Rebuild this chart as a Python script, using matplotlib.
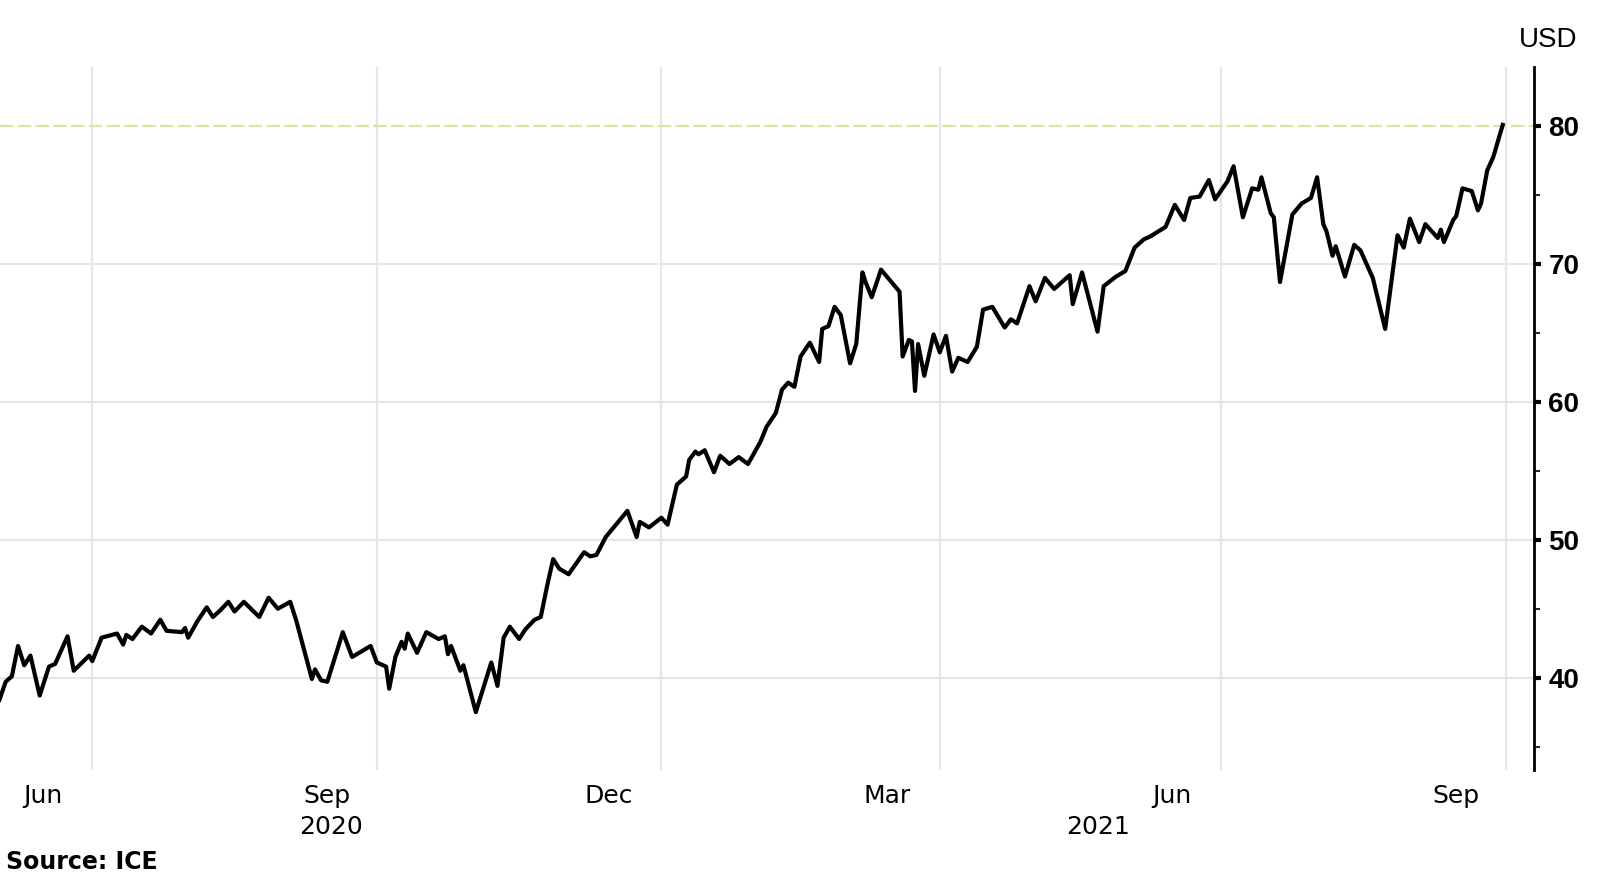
import matplotlib.pyplot as plt
import matplotlib.dates as mdates
import pandas as pd

# Brent crude, USD per barrel
dates = [
    "2020-06-01", "2020-06-03", "2020-06-05", "2020-06-07", "2020-06-09", "2020-06-11",
    "2020-06-14", "2020-06-17", "2020-06-19", "2020-06-23", "2020-06-25", "2020-06-30",
    "2020-07-01", "2020-07-04", "2020-07-09", "2020-07-11", "2020-07-12", "2020-07-14",
    "2020-07-17", "2020-07-20", "2020-07-23", "2020-07-25", "2020-07-30", "2020-07-31",
    "2020-08-01", "2020-08-04", "2020-08-07", "2020-08-09", "2020-08-11", "2020-08-14",
    "2020-08-16", "2020-08-19", "2020-08-24", "2020-08-27", "2020-08-30", "2020-09-03",
    "2020-09-05", "2020-09-10", "2020-09-11", "2020-09-13", "2020-09-15", "2020-09-20",
    "2020-09-23", "2020-09-29", "2020-10-01", "2020-10-04", "2020-10-05", "2020-10-07",
    "2020-10-09", "2020-10-10", "2020-10-11", "2020-10-14", "2020-10-17", "2020-10-21",
    "2020-10-23", "2020-10-24", "2020-10-25", "2020-10-28", "2020-10-29", "2020-11-02",
    "2020-11-07", "2020-11-09", "2020-11-11", "2020-11-13", "2020-11-16", "2020-11-18",
    "2020-11-21", "2020-11-23", "2020-11-25", "2020-11-27", "2020-11-29", "2020-12-02",
    "2020-12-07", "2020-12-09", "2020-12-11", "2020-12-14", "2020-12-21", "2020-12-24",
    "2020-12-25", "2020-12-28", "2021-01-01", "2021-01-03", "2021-01-06", "2021-01-09",
    "2021-01-10", "2021-01-12", "2021-01-13", "2021-01-15", "2021-01-18", "2021-01-20",
    "2021-01-23", "2021-01-26", "2021-01-29", "2021-02-02", "2021-02-04", "2021-02-07",
    "2021-02-09", "2021-02-11", "2021-02-13", "2021-02-15", "2021-02-18", "2021-02-21",
    "2021-02-22", "2021-02-24", "2021-02-26", "2021-02-28", "2021-03-03", "2021-03-05",
    "2021-03-07", "2021-03-08", "2021-03-10", "2021-03-13", "2021-03-19", "2021-03-20",
    "2021-03-22", "2021-03-23", "2021-03-24", "2021-03-25", "2021-03-27", "2021-03-30",
    "2021-04-01", "2021-04-03", "2021-04-05", "2021-04-07", "2021-04-10", "2021-04-13",
    "2021-04-15", "2021-04-18", "2021-04-22", "2021-04-24", "2021-04-26", "2021-04-30",
    "2021-05-02", "2021-05-05", "2021-05-08", "2021-05-13", "2021-05-14", "2021-05-17",
    "2021-05-22", "2021-05-24", "2021-05-28", "2021-05-31", "2021-06-03", "2021-06-06",
    "2021-06-08", "2021-06-13", "2021-06-16", "2021-06-19", "2021-06-21", "2021-06-24",
    "2021-06-27", "2021-06-29", "2021-07-03", "2021-07-05", "2021-07-08", "2021-07-11",
    "2021-07-13", "2021-07-14", "2021-07-17", "2021-07-18", "2021-07-20", "2021-07-24",
    "2021-07-27", "2021-07-30", "2021-08-01", "2021-08-03", "2021-08-04", "2021-08-06",
    "2021-08-07", "2021-08-10", "2021-08-13", "2021-08-15", "2021-08-19", "2021-08-23",
    "2021-08-27", "2021-08-29", "2021-08-31", "2021-09-03", "2021-09-05", "2021-09-09",
    "2021-09-10", "2021-09-11", "2021-09-14", "2021-09-15", "2021-09-17", "2021-09-20",
    "2021-09-22", "2021-09-23", "2021-09-25", "2021-09-27", "2021-09-30",
]
brent = [
    38.4, 39.7, 40.1, 42.3, 40.9, 41.6,
    38.7, 40.8, 41.0, 43.0, 40.5, 41.6,
    41.2, 42.9, 43.2, 42.4, 43.1, 42.8,
    43.7, 43.2, 44.2, 43.4, 43.3, 43.6,
    42.9, 44.1, 45.1, 44.4, 44.8, 45.5,
    44.8, 45.5, 44.4, 45.8, 45.0, 45.5,
    44.1, 39.9, 40.6, 39.8, 39.7, 43.3,
    41.5, 42.3, 41.1, 40.8, 39.2, 41.5,
    42.6, 42.1, 43.2, 41.8, 43.3, 42.8,
    43.0, 41.7, 42.3, 40.5, 40.9, 37.5,
    41.1, 39.4, 42.9, 43.7, 42.8, 43.5,
    44.2, 44.4, 46.6, 48.6, 47.9, 47.5,
    49.1, 48.8, 48.9, 50.2, 52.1, 50.2,
    51.3, 50.9, 51.6, 51.1, 54.0, 54.6,
    55.8, 56.4, 56.2, 56.5, 54.9, 56.1,
    55.5, 56.0, 55.5, 57.1, 58.2, 59.2,
    60.9, 61.4, 61.1, 63.3, 64.3, 62.9,
    65.3, 65.5, 66.9, 66.3, 62.8, 64.2,
    69.4, 68.7, 67.6, 69.6, 68.0, 63.3,
    64.5, 64.4, 60.8, 64.2, 61.9, 64.9,
    63.6, 64.8, 62.2, 63.2, 62.9, 64.0,
    66.7, 66.9, 65.4, 66.0, 65.7, 68.4,
    67.3, 69.0, 68.2, 69.2, 67.1, 69.4,
    65.1, 68.4, 69.1, 69.5, 71.2, 71.8,
    72.0, 72.7, 74.3, 73.2, 74.8, 74.9,
    76.1, 74.7, 76.0, 77.1, 73.4, 75.5,
    75.4, 76.3, 73.7, 73.4, 68.7, 73.6,
    74.4, 74.8, 76.3, 72.9, 72.4, 70.6,
    71.3, 69.1, 71.4, 71.0, 69.0, 65.3,
    72.1, 71.2, 73.3, 71.6, 72.9, 71.9,
    72.5, 71.6, 73.2, 73.5, 75.5, 75.3,
    73.9, 74.4, 76.8, 77.8, 80.1,
]

month_labels = ["Jun", "Sep", "Dec", "Mar", "Jun", "Sep"]
label_days = ["2020-06-15", "2020-09-15", "2020-12-15", "2021-03-15", "2021-06-15", "2021-09-15"]
grid_days = ["2020-07-01", "2020-10-01", "2021-01-01", "2021-04-01", "2021-07-01", "2021-10-01"]
years = ["2020", "2021"]
y_ticks = [40, 50, 60, 70, 80]
y_minor = [35, 45, 55, 65, 75]

x = pd.to_datetime(dates)
x_start = pd.Timestamp("2020-06-01 04:00")
x_end = pd.Timestamp("2021-10-10 06:00")

fig = plt.figure(figsize=(16, 8.76), dpi=100)
ax = fig.add_axes([0, 0.121, 0.959, 0.8025])

# grid
for g in grid_days:
    ax.axvline(pd.Timestamp(g), color="#e6e6e6", lw=1.6, zorder=0)
for t in y_ticks[:-1]:
    ax.axhline(t, color="#e6e6e6", lw=1.6, zorder=0)
ax.axhline(80, color="#dde4a0", lw=1.6, ls=(0, (6, 2)), zorder=0)

ax.plot(x, brent, color="black", lw=3.0, solid_joinstyle="round", zorder=3)

ax.set_xlim(x_start, x_end)
ax.set_ylim(33.3, 84.3)

# y axis on the right
ax.yaxis.tick_right()
ax.set_yticks(y_ticks)
ax.set_yticks(y_minor, minor=True)
ax.tick_params(axis="y", which="major", direction="out", length=5, width=3, pad=5,
               labelsize=20, colors="black")
ax.tick_params(axis="y", which="minor", direction="out", length=4, width=1.2)
for lab in ax.get_yticklabels():
    lab.set_family("Liberation Sans")
    lab.set_fontweight("bold")

# x labels at mid-month
ax.set_xticks([pd.Timestamp(d) for d in label_days])
ax.set_xticklabels(month_labels)
ax.tick_params(axis="x", length=0, pad=10, labelsize=18)

for s in ["top", "left", "bottom"]:
    ax.spines[s].set_visible(False)
ax.spines["right"].set_linewidth(2)

# year labels centred on each year's visible span
y0 = mdates.date2num(x_start)
y1 = mdates.date2num(pd.Timestamp("2021-01-01"))
y2 = mdates.date2num(x_end)
ax.text((y0 + y1) / 2, -0.081, years[0], transform=ax.get_xaxis_transform(),
        ha="center", va="center", fontsize=18)
ax.text((y1 + y2) / 2, -0.081, years[1], transform=ax.get_xaxis_transform(),
        ha="center", va="center", fontsize=18)

fig.text(1548 / 1600, 1 - 40 / 876, "USD", ha="center", va="center",
         fontsize=20, family="Liberation Sans")
fig.text(0.004, 1 - 862 / 876, "Source: ICE", ha="left", va="center",
         fontsize=17, fontweight="bold")

fig.savefig("out.png", dpi=100)
